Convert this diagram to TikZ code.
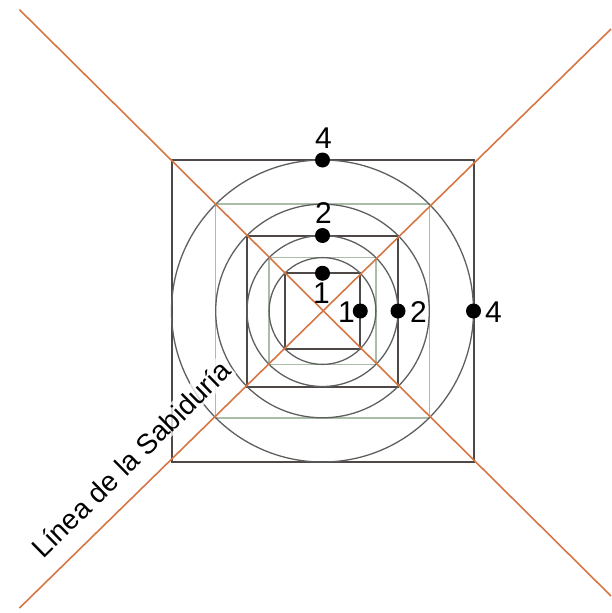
\documentclass[tikz,border=0pt]{standalone}
\usepackage{fontspec}
\setmainfont{Liberation Sans}
\definecolor{diagc}{RGB}{214,118,68}
\definecolor{sqc}{RGB}{78,72,70}
\definecolor{grc}{RGB}{168,190,168}
\definecolor{ringc}{RGB}{95,95,95}
\begin{document}
\begin{tikzpicture}[x=1pt,y=-1pt,
  darksq/.style={draw=sqc, line width=2pt},
  greensq/.style={draw=grc, line width=1.5pt},
  ring/.style={draw=ringc, line width=1.3pt},
  diag/.style={draw=diagc, line width=1.6pt},
  dotmark/.style={circle, fill=black, inner sep=0pt, minimum size=15pt},
  lab/.style={font=\fontsize{30}{32}\selectfont, inner sep=0pt},
  wisdom/.style={font=\fontsize{28}{30}\selectfont}]
\useasboundingbox (0,0) rectangle (611,613);
\coordinate (c) at (322.5,311);
% squares
\draw[darksq] (171.5,160) rectangle (473.5,462);
\draw[greensq] (215.7,204.2) rectangle (429.3,417.8);
\draw[darksq] (247,235.5) rectangle (398,386.5);
\draw[greensq] (269.1,257.6) rectangle (375.9,364.4);
\draw[darksq] (284.75,273.25) rectangle (360.25,348.75);
% circles
\draw[ring] (c) circle[radius=151];
\draw[ring] (c) circle[radius=106.8];
\draw[ring] (c) circle[radius=75.5];
\draw[ring] (c) circle[radius=53.4];
% diagonals
\coordinate (tl) at (19.5,9.7);
\coordinate (br) at (611,596);
\coordinate (bl) at (19.5,608);
\coordinate (tr) at (611,29);
\draw[diag] (tl) -- (br);
\draw[diag] (bl) -- (tr);
% dots
\node[dotmark] (d4t) at (322.5,160) {};
\node[dotmark] (d2t) at (322.5,235.5) {};
\node[dotmark] (d1t) at (322.5,273.25) {};
\node[dotmark] (d1r) at (360.25,311) {};
\node[dotmark] (d2r) at (398,311) {};
\node[dotmark] (d4r) at (473.5,311) {};
% labels
\node[lab] (l4t) at (323.5,138.5) {4};
\node[lab] (l2t) at (323.5,213.5) {2};
\node[lab] (l1t) at (321.5,293) {1};
\node[lab] (l1r) at (346.5,312) {1};
\node[lab] (l2r) at (418.5,312) {2};
\node[lab] (l4r) at (493.5,312) {4};
\node[wisdom, rotate=44.5, fill=white, fill opacity=0.75, text opacity=1, inner sep=2pt] (wis) at (131,459) {Línea de la Sabiduría};
\end{tikzpicture}
\end{document}
